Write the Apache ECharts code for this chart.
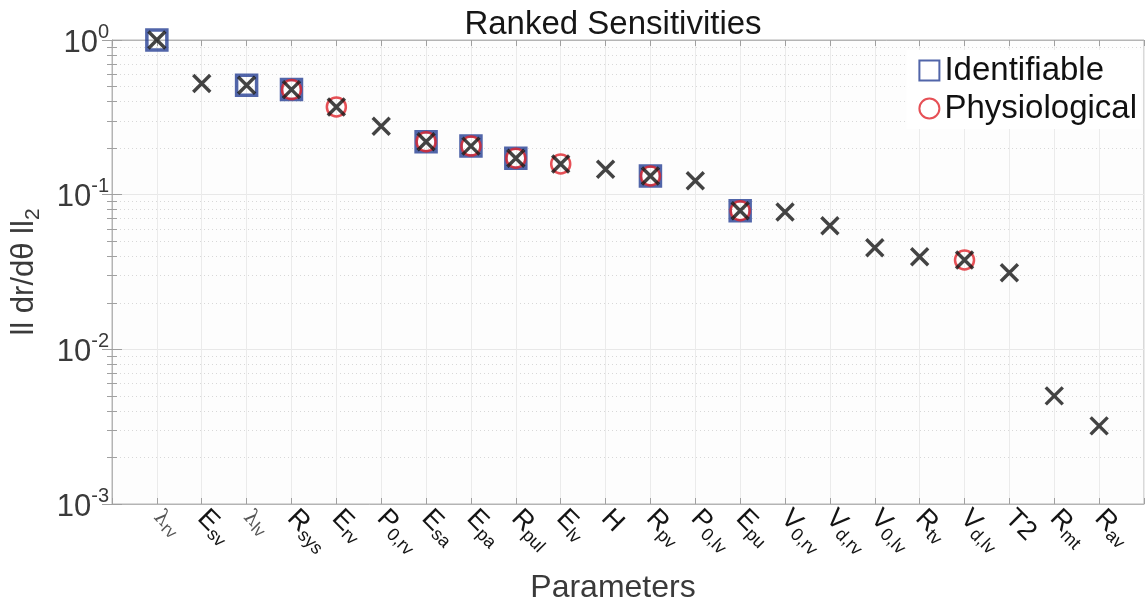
<!DOCTYPE html>
<html>
<head>
<meta charset="utf-8">
<script src="https://cdn.jsdelivr.net/npm/echarts@6/dist/echarts.min.js"></script>
<style>
  html, body { margin: 0; padding: 0; background: #ffffff; }
  #chart { width: 1145px; height: 605px; }
</style>
</head>
<body>
<div id="chart"></div>
<script>
// Parameter labels: main symbol and subscript, in ranked order
const paramMain = ['λ', 'E', 'λ', 'R', 'E', 'P', 'E', 'E', 'R', 'E', 'H', 'R', 'P', 'E', 'V', 'V', 'V', 'R', 'V', 'T2', 'R', 'R'];
const paramSub  = ['rv', 'sv', 'lv', 'sys', 'rv', '0,rv', 'sa', 'pa', 'pul', 'lv', '', 'pv', '0,lv', 'pu', '0,rv', 'd,rv', '0,lv', 'tv', 'd,lv', '', 'mt', 'av'];

// Sensitivity norms ||dr/dθ||_2, ranked
const sensitivity = [1.0, 0.523, 0.510, 0.478, 0.369, 0.277, 0.220, 0.206, 0.172, 0.158, 0.146,
                     0.132, 0.123, 0.0787, 0.0772, 0.063, 0.0454, 0.0397, 0.0378, 0.0313, 0.0050, 0.0032];

// Parameter subsets
const identifiable  = ['λrv', 'λlv', 'Rsys', 'Esa', 'Epa', 'Rpul', 'Rpv', 'Epu'];
const physiological = ['Rsys', 'Erv', 'Esa', 'Epa', 'Rpul', 'Elv', 'Rpv', 'Epu', 'Vd,lv'];

// Y tick labels (decade exponents)
const yExponents = ['0', '-1', '-2', '-3'];

const paramKey = paramMain.map((m, i) => m + paramSub[i]);
const allPoints = sensitivity.map((v, i) => [i + 1, v]);
const subsetPoints = (names) => paramKey
  .map((k, i) => names.includes(k) ? [i + 1, sensitivity[i]] : null)
  .filter(Boolean);

const crossPath = 'path://M0,0L10,10M10,0L0,10';
const FONT = 'Liberation Sans, Arial, Helvetica, sans-serif';

const chart = echarts.init(document.getElementById('chart'), null, { renderer: 'canvas' });

const xLabel = (val) => {
  const i = Math.round(val) - 1;
  if (i < 0 || i >= paramMain.length) return '';
  if (paramMain[i] === 'λ') return '{lam|λ}{lsub|' + paramSub[i] + '}';
  if (!paramSub[i]) return '{m|' + paramMain[i] + '}';
  return '{m|' + paramMain[i] + '}{s|' + paramSub[i] + '}';
};

const yLabel = (val) => {
  const k = Math.round(Math.log10(val));
  const idx = -k;
  if (idx < 0 || idx >= yExponents.length) return '';
  return '{b|10}{e|' + yExponents[idx] + '}';
};

chart.setOption({
  backgroundColor: '#ffffff',
  animation: false,
  title: {
    text: 'Ranked Sensitivities',
    left: 608,
    textAlign: 'center',
    top: 3,
    textStyle: { fontFamily: FONT, fontSize: 33, fontWeight: 'normal', color: '#161616' }
  },
  legend: {
    orient: 'vertical',
    right: 4,
    top: 50,
    itemWidth: 20,
    itemHeight: 20,
    itemGap: 5,
    backgroundColor: '#ffffff',
    padding: [4, 4, 4, 12],
    textStyle: { fontFamily: FONT, fontSize: 33, color: '#111111', padding: [0, 0, 0, 0] },
    data: ['Identifiable', 'Physiological']
  },
  grid: {
    left: 112, top: 40, right: 1, bottom: 101,
    outerBoundsMode: 'none',
    containLabel: false,
    show: true, backgroundColor: '#fdfdfd', borderColor: '#b4b4b4', borderWidth: 1
  },
  xAxis: [{
    type: 'value',
    min: 0,
    max: 23,
    interval: 1,
    position: 'bottom',
    name: 'Parameters',
    nameLocation: 'middle',
    nameGap: 68,
    nameTextStyle: { fontFamily: FONT, fontSize: 32, color: '#3a3a3a', padding: [0, 30, 0, 0] },
    axisLine: { show: true, lineStyle: { color: '#b4b4b4', width: 1 } },
    axisTick: { show: true, inside: true, length: 6, lineStyle: { color: '#a0a0a0' } },
    splitLine: { show: true, lineStyle: { color: '#ebebeb', width: 1 } },
    axisLabel: {
      rotate: -45,
      margin: 10,
      interval: 0,
      formatter: xLabel,
      rich: {
        m: { fontFamily: FONT, fontSize: 27, color: '#141414' },
        s: { fontFamily: FONT, fontSize: 18, color: '#141414', padding: [14, 0, 0, 0] },
        lam: { fontFamily: 'DejaVu Serif, serif', fontSize: 21, color: '#555555' },
        lsub: { fontFamily: FONT, fontSize: 17, color: '#555555', padding: [8, 0, 0, 0] }
      }
    }
  }, {
    type: 'value',
    min: 0,
    max: 23,
    interval: 1,
    position: 'top',
    axisLine: { show: true, lineStyle: { color: '#b4b4b4', width: 1 } },
    axisTick: { show: true, inside: true, length: 6, lineStyle: { color: '#a0a0a0' } },
    axisLabel: { show: false },
    splitLine: { show: false }
  }],
  yAxis: [{
    type: 'log',
    logBase: 10,
    min: 0.001,
    max: 1,
    position: 'left',
    name: '{m|ll dr/dθ ll}{s|2}',
    nameLocation: 'middle',
    nameRotate: 90,
    nameGap: 68,
    nameTextStyle: {
      rich: {
        m: { fontFamily: FONT, fontSize: 31, color: '#3a3a3a' },
        s: { fontFamily: FONT, fontSize: 21, color: '#3a3a3a', padding: [18, 0, 0, 0] }
      }
    },
    axisLine: { show: true, lineStyle: { color: '#b4b4b4', width: 1 } },
    axisTick: { show: true, inside: true, length: 10, lineStyle: { color: '#a0a0a0' } },
    minorTick: { show: true, splitNumber: 9, length: 5, lineStyle: { color: '#a0a0a0' } },
    splitLine: { show: true, lineStyle: { color: '#e8e8e8', width: 1 } },
    minorSplitLine: { show: true, lineStyle: { color: '#d8d8d8', width: 1, type: [1, 3] } },
    axisLabel: {
      margin: 3,
      formatter: yLabel,
      rich: {
        b: { fontFamily: FONT, fontSize: 31, color: '#3a3a3a', padding: [6, 0, 0, 0] },
        e: { fontFamily: FONT, fontSize: 20, color: '#3a3a3a', padding: [0, 0, 16, 0] }
      }
    }
  }, {
    type: 'log',
    logBase: 10,
    min: 0.001,
    max: 1,
    position: 'right',
    axisLine: { show: true, lineStyle: { color: '#b4b4b4', width: 1 } },
    axisTick: { show: true, inside: true, length: 10, lineStyle: { color: '#a0a0a0' } },
    minorTick: { show: true, splitNumber: 9, length: 5, lineStyle: { color: '#a0a0a0' } },
    axisLabel: { show: false },
    splitLine: { show: false }
  }],
  series: [{
    name: 'Identifiable',
    type: 'scatter',
    data: subsetPoints(identifiable),
    symbol: 'rect',
    symbolSize: 20,
    z: 2,
    itemStyle: { color: 'rgba(0,0,0,0)', borderColor: '#253f93', borderWidth: 3.5 }
  }, {
    name: 'Physiological',
    type: 'scatter',
    data: subsetPoints(physiological),
    symbol: 'circle',
    symbolSize: 19,
    z: 3,
    itemStyle: { color: 'rgba(0,0,0,0)', borderColor: '#e0242c', borderWidth: 2.5 }
  }, {
    name: 'Sensitivity',
    type: 'scatter',
    data: allPoints,
    symbol: crossPath,
    symbolSize: 17,
    z: 4,
    itemStyle: { color: 'rgba(0,0,0,0)', borderColor: '#141414', borderWidth: 3.4 }
  }]
});
</script>
</body>
</html>
